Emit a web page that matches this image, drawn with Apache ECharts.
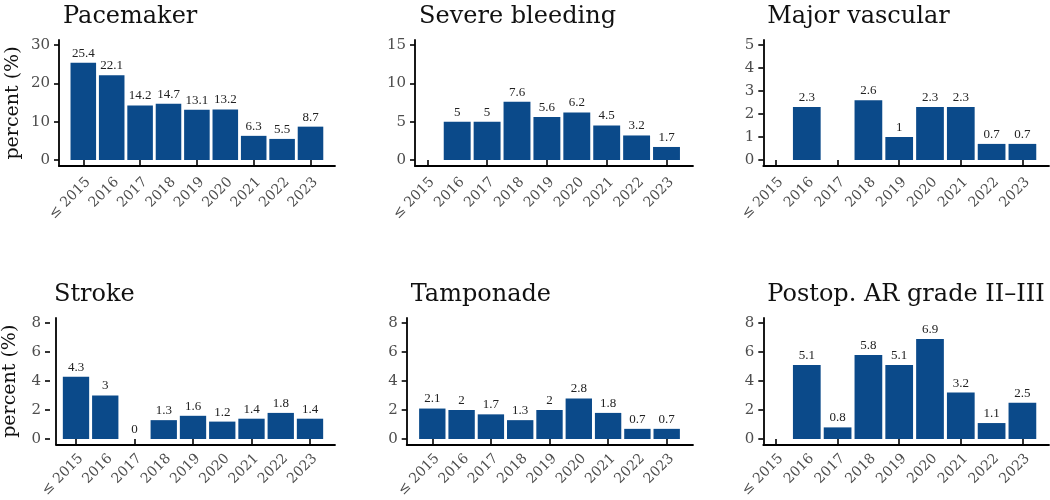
<!DOCTYPE html>
<html>
<head>
<meta charset="utf-8">
<script src="https://cdn.jsdelivr.net/npm/echarts@6/dist/echarts.min.js"></script>
<style>
html,body{margin:0;padding:0;background:#fff;}
#chart{width:1050px;height:500px;}
</style>
</head>
<body>
<div id="chart"></div>
<script>
const categories = ['≤ 2015', '2016', '2017', '2018', '2019', '2020', '2021', '2022', '2023'];
const titles = ['Pacemaker', 'Severe bleeding', 'Major vascular', 'Stroke', 'Tamponade', 'Postop. AR grade II\u2013III'];
const pacemaker = [25.4, 22.1, 14.2, 14.7, 13.1, 13.2, 6.3, 5.5, 8.7];
const severeBleeding = [null, 5, 5, 7.6, 5.6, 6.2, 4.5, 3.2, 1.7];
const majorVascular = [null, 2.3, null, 2.6, 1, 2.3, 2.3, 0.7, 0.7];
const stroke = [4.3, 3, 0, 1.3, 1.6, 1.2, 1.4, 1.8, 1.4];
const tamponade = [2.1, 2, 1.7, 1.3, 2, 2.8, 1.8, 0.7, 0.7];
const postopAR = [null, 5.1, 0.8, 5.8, 5.1, 6.9, 3.2, 1.1, 2.5];
const yMax = [30, 15, 5, 8, 8, 8];
const yStep = [10, 5, 1, 2, 2, 2];
const yName = ['percent (%)', '', '', 'percent (%)', '', ''];

const seriesData = [pacemaker, severeBleeding, majorVascular, stroke, tamponade, postopAR];

// layout (pixels): y-axis line x, x-axis line end x, first tick x, tick spacing
const W = 1050, H = 500;
const colLayout = [
  [59, 335, 83.3, 28.4],
  [415, 693, 427.3, 29.9],
  [763.3, 1049, 776, 30.8],
  [50, 335, 76, 29.25],
  [406.7, 693, 432.3, 29.3],
  [763.3, 1049, 776, 30.8]
];
// row layout: max-value y, zero y, axis-line top y, x-axis line y, title top
const rowLayout = [
  [45, 160, 40, 166, 0],
  [323, 439, 318, 444.5, 278]
];

const SERIF = '"DejaVu Serif", "Liberation Serif", serif';
const barColor = '#0b4a8a';
const labelDx = 5;

const option = {
  animation: false,
  backgroundColor: '#fff',
  title: [], grid: [], xAxis: [], yAxis: [], series: []
};

for (let i = 0; i < 6; i++) {
  const [axX, axEnd, t0, step] = colLayout[i];
  const [maxY, zeroY, lineTop, lineY, titleTop] = rowLayout[Math.floor(i / 3)];
  const aLeft = t0 - step / 2;
  const aW = step * 9;
  const gA = option.grid.length;
  option.grid.push({ left: aLeft, width: aW, top: maxY, height: zeroY - maxY, containLabel: false });
  option.grid.push({ left: axX, width: axEnd - axX, top: lineTop, height: lineY - lineTop, containLabel: false });
  option.grid.push({ left: aLeft + labelDx, width: aW, top: maxY, height: zeroY - maxY, containLabel: false });

  option.title.push({
    text: titles[i], left: axX - 1, top: titleTop,
    textStyle: { fontFamily: SERIF, fontSize: 24, fontWeight: 'normal', color: '#111' }
  });

  // grid A: bars, ticks
  const xA = option.xAxis.length;
  option.xAxis.push({
    type: 'category', data: categories, gridIndex: gA, offset: lineY - zeroY,
    axisLine: { show: false },
    axisTick: { show: true, alignWithLabel: true, length: 5, lineStyle: { color: '#000', width: 1.6 } },
    axisLabel: { show: false }, splitLine: { show: false }
  });
  const yA = option.yAxis.length;
  option.yAxis.push({
    type: 'value', gridIndex: gA, min: 0, max: yMax[i], interval: yStep[i], offset: aLeft - axX,
    axisLine: { show: false },
    axisTick: { show: true, length: 5, lineStyle: { color: '#000', width: 1.6 } },
    axisLabel: { show: true, margin: 9, fontFamily: SERIF, fontSize: 15, color: '#4d4d4d' },
    splitLine: { show: false }
  });
  // grid B: axis lines
  option.xAxis.push({
    type: 'value', gridIndex: gA + 1, min: 0, max: 1,
    axisLine: { show: true, onZero: false, lineStyle: { color: '#000', width: 1.8 } },
    axisTick: { show: false }, axisLabel: { show: false }, splitLine: { show: false }
  });
  option.yAxis.push({
    type: 'value', gridIndex: gA + 1, min: 0, max: 1,
    name: yName[i], nameLocation: 'middle', nameGap: 36, nameRotate: 90,
    nameTextStyle: { fontFamily: SERIF, fontSize: 19, color: '#111' },
    axisLine: { show: true, onZero: false, lineStyle: { color: '#000', width: 1.8 } },
    axisTick: { show: false }, axisLabel: { show: false }, splitLine: { show: false }
  });
  // grid C: x labels
  option.xAxis.push({
    type: 'category', data: categories, gridIndex: gA + 2, offset: lineY - zeroY,
    axisLine: { show: false }, axisTick: { show: false },
    axisLabel: { show: true, interval: 0, rotate: 45, margin: 14, fontFamily: SERIF, fontSize: 14, color: '#4d4d4d' },
    splitLine: { show: false }
  });
  option.yAxis.push({
    type: 'value', gridIndex: gA + 2, min: 0, max: 1, show: false
  });

  option.series.push({
    type: 'bar', xAxisIndex: xA, yAxisIndex: yA,
    data: seriesData[i],
    barCategoryGap: '10%',
    itemStyle: { color: barColor },
    label: {
      show: true, position: 'top', distance: 3,
      fontFamily: '"Liberation Serif", serif', fontSize: 13, color: '#222',
      formatter: p => (p.value === null || p.value === undefined) ? '' : String(p.value)
    }
  });
}

const chart = echarts.init(document.getElementById('chart'), null, { renderer: 'canvas' });
chart.setOption(option);
</script>
</body>
</html>
